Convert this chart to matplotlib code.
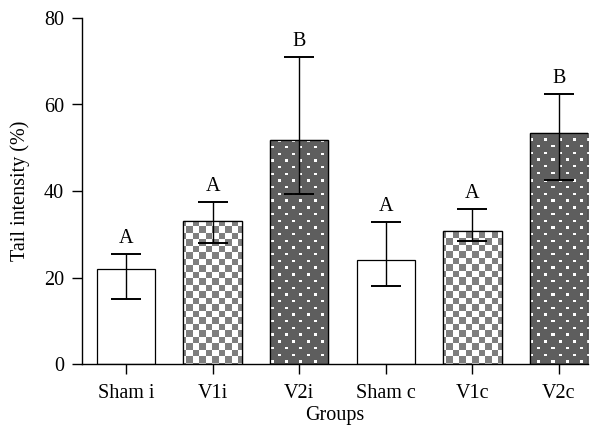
import matplotlib
matplotlib.use("Agg")
import matplotlib.pyplot as plt
import numpy as np

# --------------------------------------
# DATA
# --------------------------------------
groups = ["Sham i", "V1i", "V2i", "Sham c", "V1c", "V2c"]
means = [22.1, 33.2, 51.7, 24.2, 30.8, 53.5]
upper = [25.5, 37.5, 71.0, 32.9, 35.9, 62.4]
lower = [15.1, 27.9, 39.3, 18.1, 28.5, 42.5]
letters = ["A", "A", "B", "A", "A", "B"]
fills = ["plain", "checker", "dots", "plain", "checker", "dots"]

plt.rcParams["font.family"] = ["Liberation Serif", "DejaVu Serif"]
FS = 14.5

W, H, DPI = 597, 436, 100
fig = plt.figure(figsize=(W / DPI, H / DPI), dpi=DPI)
left, right = 82.3 / W, 588.0 / W
bottom, top = (H - 364.3) / H, (H - 17.9) / H
ax = fig.add_axes([left, bottom, right - left, top - bottom])

x = np.arange(len(groups))
xlim = (-0.505, 5.335)
ylim = (0, 80)

bars = ax.bar(x, means, width=0.673, color="white", edgecolor="black",
              linewidth=0.9, zorder=2)

# --------------------------------------
# FILL PATTERNS (pixel images clipped to the bars)
# --------------------------------------
pw = int(round((right - left) * W))
ph = int(round((top - bottom) * H))
jj, ii = np.meshgrid(np.arange(pw), np.arange(ph))

cell = 6.5
checker = ((np.floor(ii / cell) + np.floor(jj / cell)) % 2).astype(float)
checker_img = np.where(checker[..., None] > 0, [1, 1, 1], [0.50, 0.50, 0.50])

row_sp, col_sp = 6.7, 14.0
row_idx = np.floor(ii / row_sp)
shift = (row_idx % 2) * (col_sp / 2)
dot = ((ii % row_sp) < 2.4) & (((jj + shift) % col_sp) < 2.4)
dots_img = np.where(dot[..., None], [1, 1, 1], [0.37, 0.37, 0.37])

imgs = {"checker": checker_img, "dots": dots_img}
for b, f in zip(bars, fills):
    if f in imgs:
        im = ax.imshow(imgs[f], extent=(xlim[0], xlim[1], ylim[0], ylim[1]),
                       origin="upper", interpolation="nearest", aspect="auto",
                       zorder=2.1)
        im.set_clip_path(b)
        # redraw edge on top
        ax.bar(b.get_x() + b.get_width() / 2, b.get_height(), width=b.get_width(),
               fill=False, edgecolor="black", linewidth=0.9, zorder=2.2)

# --------------------------------------
# ERROR BARS AND LETTERS
# --------------------------------------
means_a = np.array(means)
yerr = [means_a - np.array(lower), np.array(upper) - means_a]
ax.errorbar(x, means, yerr=yerr, fmt="none", ecolor="black", elinewidth=1.0,
            capsize=11, capthick=1.4, zorder=3)

for xi, u, t in zip(x, upper, letters):
    ax.text(xi, u + 1.3, t, ha="center", va="bottom", fontsize=FS)

# --------------------------------------
# AXES STYLING
# --------------------------------------
ax.set_xlim(*xlim)
ax.set_ylim(*ylim)
ax.set_xticks(x)
ax.set_xticklabels(groups, fontsize=FS)
ax.set_yticks([0, 20, 40, 60, 80])
ax.tick_params(axis="y", labelsize=FS, length=7, width=1.0, pad=6)
ax.tick_params(axis="x", length=7, width=1.0, pad=7)
ax.spines["top"].set_visible(False)
ax.spines["right"].set_visible(False)
ax.spines["left"].set_linewidth(1.0)
ax.spines["bottom"].set_linewidth(1.0)
ax.set_ylabel("Tail intensity (%)", fontsize=FS, labelpad=10)
ax.set_xlabel("Groups", fontsize=FS, labelpad=2)

fig.savefig("out.png", dpi=DPI)
